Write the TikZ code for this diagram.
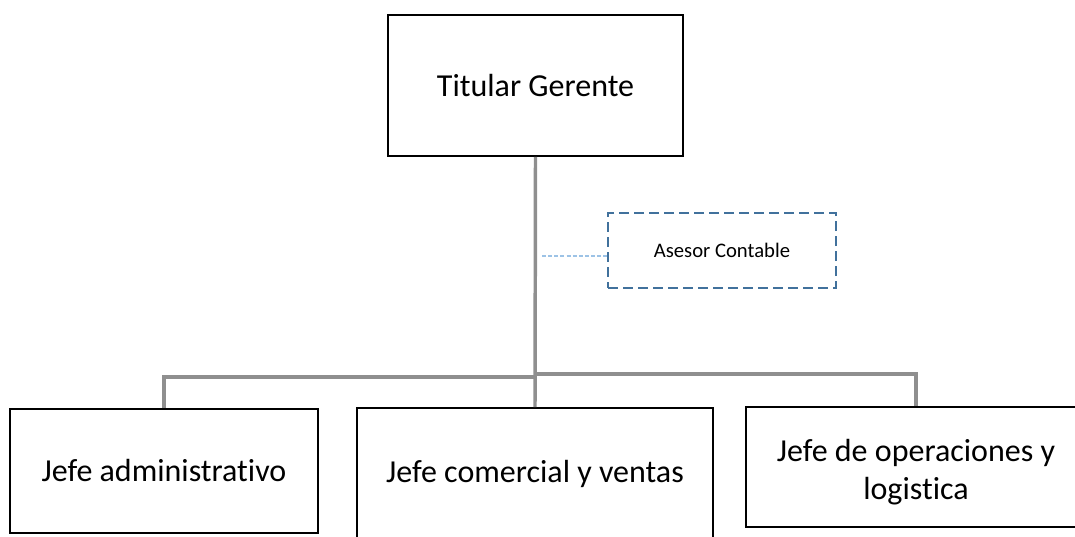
\documentclass[tikz,border=0pt]{standalone}
\usepackage{fontspec}
\setmainfont[Ligatures=NoCommon]{Carlito}
\definecolor{linkgray}{HTML}{8F8F8F}
\definecolor{dashblue}{HTML}{41719C}
\definecolor{lightblue}{HTML}{9DC3E6}
\begin{document}
\begin{tikzpicture}[x=0.75pt,y=-0.75pt,
  boxstyle/.style={draw=black,line width=1.4pt,fill=white,inner sep=0pt,align=center,font=\fontsize{24}{28.5}\selectfont},
  advisor/.style={draw=dashblue,line width=1.5pt,dash pattern=on 7.5pt off 3.75pt,inner sep=0pt,align=center,font=\fontsize{15.5}{19}\selectfont},
  linkline/.style={draw=linkgray,line width=2.6pt},
  dotlink/.style={draw=lightblue,line width=0.9pt,dash pattern=on 3pt off 1.6pt}]
\useasboundingbox (0,0) rectangle (1075,536);
\clip (0,0) rectangle (1075,536);
\coordinate (jL) at (535,377);
\coordinate (jR) at (535,374);
\coordinate (dotstart) at (542,256);
\node[boxstyle,minimum width=221.25pt,minimum height=105.75pt] (top) at (535.5,85.5) {Titular Gerente};
\node[boxstyle,minimum width=231pt,minimum height=93pt] (left) at (164,471) {Jefe administrativo};
\node[boxstyle,minimum width=267pt,minimum height=99pt] (mid) at (535,474) {Jefe comercial y ventas};
\node[boxstyle,minimum width=255pt,minimum height=90pt] (right) at (916,467) {\smash{\raisebox{-10.5pt}{\begin{tabular}{@{}c@{}}Jefe de operaciones y\\logistica\end{tabular}}}};
\node[advisor,minimum width=171pt,minimum height=56.25pt] (adv) at (722,250.5) {Asesor Contable};
\path[linkline] (top.south) -- (mid.north);
\path[linkline] (jL) -| (left.north);
\path[linkline] (jR) -| (right.north);
\path[dotlink] (dotstart) -- (dotstart -| adv.west);
\end{tikzpicture}
\end{document}
